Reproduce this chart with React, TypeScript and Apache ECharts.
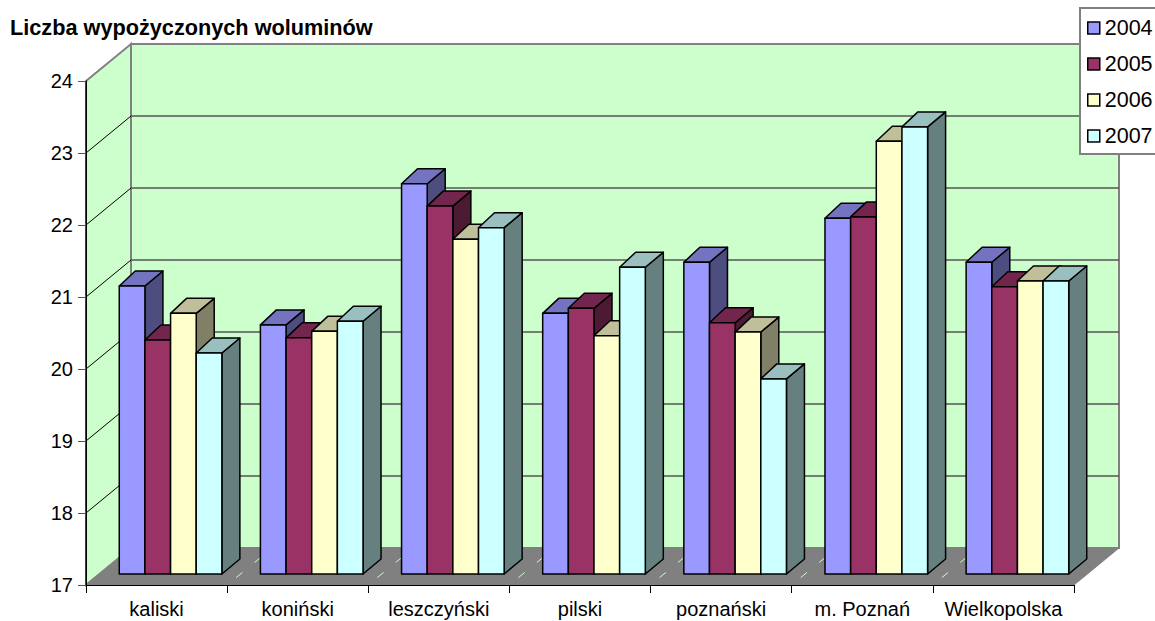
import React, { useEffect, useRef } from "react";
import * as echarts from "echarts";

const categories = ["kaliski", "koniński", "leszczyński", "pilski", "poznański", "m. Poznań", "Wielkopolska"];
const years = ["2004", "2005", "2006", "2007"];
const values2004 = [21.0, 20.46, 22.42, 20.62, 21.33, 21.94, 21.33];
const values2005 = [20.25, 20.28, 22.11, 20.69, 20.49, 21.96, 20.99];
const values2006 = [20.62, 20.37, 21.65, 20.31, 20.36, 23.01, 21.07];
const values2007 = [20.07, 20.51, 21.81, 21.26, 19.71, 23.21, 21.07];
const yTicks = [17, 18, 19, 20, 21, 22, 23, 24];
const seriesValues = [values2004, values2005, values2006, values2007];
const frontColors = ["#9999FF", "#993366", "#FFFFCC", "#CCFFFF"];
const topColors = ["#7373BF", "#73264D", "#BFBF99", "#99BFBF"];
const sideColors = ["#4D4D80", "#4D1A33", "#808066", "#668080"];

const WALL_DX = 45;
const WALL_DY = -37;
const BAR_SHIFT_X = 14;
const BAR_SHIFT_Y = -11;
const GROUP_FRACTION = 0.727;
const BAR_DX_L = 16;
const BAR_DX_R = 18;
const BAR_DY = -15;

function wallsRender(params: any, api: any) {
  const cs = params.coordSys;
  const x0 = cs.x, x1 = cs.x + cs.width, yTop = cs.y, yBot = cs.y + cs.height;
  const grey = "#808080";
  const children: any[] = [];
  children.push({
    type: "polygon",
    shape: { points: [[x0 + WALL_DX, yTop + WALL_DY], [x1 + WALL_DX, yTop + WALL_DY], [x1 + WALL_DX, yBot + WALL_DY], [x0 + WALL_DX, yBot + WALL_DY]] },
    style: { fill: "#CCFFCC", stroke: grey, lineWidth: 2 },
  });
  children.push({
    type: "polygon",
    shape: { points: [[x0, yTop], [x0 + WALL_DX, yTop + WALL_DY], [x0 + WALL_DX, yBot + WALL_DY], [x0, yBot]] },
    style: { fill: "#CCFFCC", stroke: grey, lineWidth: 2 },
  });
  yTicks.slice(1, -1).forEach((t) => {
    const y = api.coord([0, t])[1];
    children.push({ type: "line", shape: { x1: x0, y1: y, x2: x0 + WALL_DX, y2: y + WALL_DY }, style: { stroke: "#000", lineWidth: 1 } });
    children.push({ type: "line", shape: { x1: x0 + WALL_DX, y1: y + WALL_DY, x2: x1 + WALL_DX, y2: y + WALL_DY }, style: { stroke: "#555", lineWidth: 1.5 } });
  });
  children.push({
    type: "polygon",
    shape: { points: [[x0, yBot], [x1, yBot], [x1 + WALL_DX, yBot + WALL_DY], [x0 + WALL_DX, yBot + WALL_DY]] },
    style: { fill: grey, stroke: grey, lineWidth: 1 },
  });
  const band = cs.width / categories.length;
  categories.forEach((_, i) => {
    if (i === 0) return;
    const x = x0 + band * i;
    [[0.2, 0.34], [0.61, 0.73]].forEach(([a, b]) => {
      children.push({
        type: "line",
        shape: { x1: x + WALL_DX * a, y1: yBot + WALL_DY * a, x2: x + WALL_DX * b, y2: yBot + WALL_DY * b },
        style: { stroke: "#CCFFCC", lineWidth: 1 },
      });
    });
  });
  children.push({ type: "line", shape: { x1: x0, y1: yTop, x2: x0, y2: yBot }, style: { stroke: "#000", lineWidth: 1 } });
  return { type: "group", children };
}

function barRender(k: number) {
  return (_params: any, api: any) => {
    const idx = api.value(0);
    const val = api.value(1);
    const band = api.size([1, 0])[0];
    const barW = (band * GROUP_FRACTION) / years.length;
    const center = api.coord([idx, val]);
    const base = api.coord([idx, 17]);
    const left = center[0] + BAR_SHIFT_X - (band * GROUP_FRACTION) / 2 + k * barW;
    const right = left + barW;
    const top = center[1] + BAR_SHIFT_Y;
    const bottom = base[1] + BAR_SHIFT_Y;
    const border = { stroke: "#000", lineWidth: 1.5, lineJoin: "round" };
    return {
      type: "group",
      children: [
        {
          type: "polygon",
          shape: { points: [[right, top], [right + BAR_DX_R, top + BAR_DY], [right + BAR_DX_R, bottom + BAR_DY], [right, bottom]] },
          style: { fill: sideColors[k], ...border },
        },
        {
          type: "polygon",
          shape: { points: [[left, top], [left + BAR_DX_L, top + BAR_DY], [right + BAR_DX_R, top + BAR_DY], [right, top]] },
          style: { fill: topColors[k], ...border },
        },
        {
          type: "rect",
          shape: { x: left, y: top, width: barW, height: bottom - top },
          style: { fill: frontColors[k], ...border },
        },
      ],
    };
  };
}

export default function App() {
  const ref = useRef<HTMLDivElement>(null);
  useEffect(() => {
    const chart = echarts.init(ref.current!, undefined, { renderer: "svg" });
    const font = "'Liberation Sans', Arial, sans-serif";
    chart.setOption({
      animation: false,
      backgroundColor: "#fff",
      textStyle: { fontFamily: font },
      title: {
        text: "Liczba wypożyczonych woluminów",
        left: 10,
        top: 16,
        padding: 0,
        textStyle: { fontFamily: font, fontWeight: "bold", fontSize: 21.7, color: "#000" },
      },
      legend: {
        orient: "vertical",
        left: 1080,
        top: 8,
        padding: [9, 12, 7, 7],
        backgroundColor: "#fff",
        borderColor: "#808080",
        borderWidth: 2,
        itemWidth: 12,
        itemHeight: 12,
        itemGap: 14,
        icon: "rect",
        textStyle: { fontFamily: font, fontSize: 21.5, color: "#000" },
        data: years.map((y, k) => ({ name: y, itemStyle: { color: frontColors[k], borderColor: "#000", borderWidth: 1.5 } })),
      },
      grid: { left: 86, right: 81, top: 81, bottom: 36, containLabel: false, outerBoundsMode: "none" },
      xAxis: {
        type: "category",
        data: categories,
        z: 10,
        axisLine: { lineStyle: { color: "#000", width: 1 } },
        axisTick: { show: true, alignWithLabel: false, length: 8, lineStyle: { color: "#000" }, interval: 0 },
        axisLabel: { fontFamily: font, fontSize: 20, color: "#000", margin: 14, interval: 0 },
      },
      yAxis: {
        type: "value",
        min: 17,
        max: 24,
        interval: 1,
        z: 10,
        splitLine: { show: false },
        axisLine: { show: true, lineStyle: { color: "#000", width: 1 } },
        axisTick: { show: true, length: 8, lineStyle: { color: "#555" } },
        axisLabel: { fontFamily: font, fontSize: 20, color: "#000", margin: 13 },
      },
      series: [
        { type: "custom", name: "walls", renderItem: wallsRender, data: [[0, 17]], encode: { x: 0, y: 1 }, silent: true, z: 1, clip: false },
        ...years.map((y, k) => ({
          type: "custom",
          name: y,
          z: 2 + k,
          clip: false,
          renderItem: barRender(k),
          encode: { x: 0, y: 1 },
          itemStyle: { color: frontColors[k] },
          data: seriesValues[k].map((v, i) => [i, v]),
        })),
      ],
    });
    return () => chart.dispose();
  }, []);
  return <div ref={ref} style={{ position: "absolute", left: 0, top: 0, width: 1155, height: 621 }} />;
}
